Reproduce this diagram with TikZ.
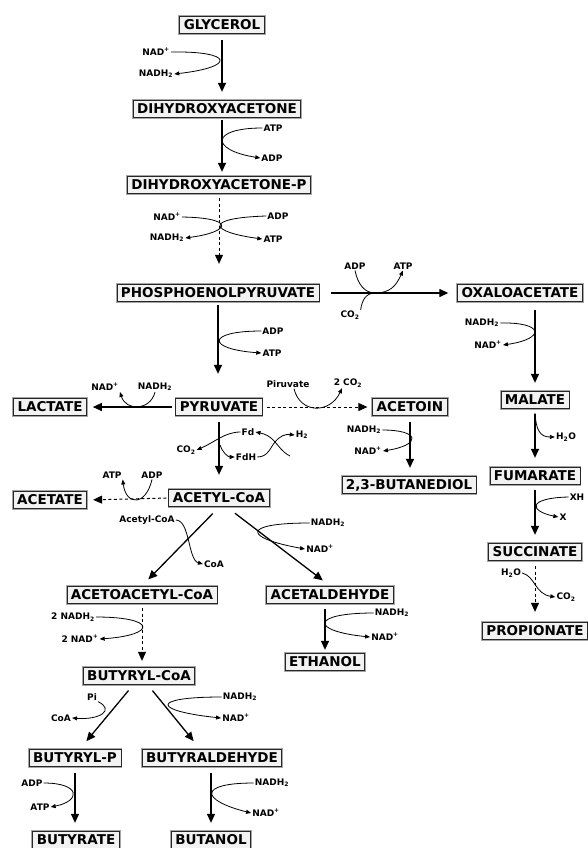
\documentclass[tikz,border=0pt]{standalone}
\usepackage{fontspec}
\setmainfont{DejaVu Sans}
\usetikzlibrary{arrows.meta}

\begin{document}
\begin{tikzpicture}[
    x = 1pt, y = -1pt, % pixel grid, y downwards
    > = {Triangle[length=9pt,width=8pt]}, % arrow head style
    main/.style = {->, line width=1.3pt},
    dashline/.style = {->, line width=1pt, dash pattern=on 3pt off 2.5pt},
    side/.style = {line width=0.8pt},
    tip/.style = {-{Triangle[length=5pt,width=4pt]}}
    ]
\tikzset{met/.style={
    preaction = {draw=black!35, line width=2.6pt},
    draw = black!85,
    fill = black!5,
    line width = 0.7pt,
    font = \fontsize{13.5}{14}\selectfont\bfseries,
    inner xsep = 4pt, inner ysep = 4pt,
    text height = 9.6pt, text depth = 0pt
    }}
\tikzset{cof/.style={font=\fontsize{9}{10}\selectfont\bfseries, inner sep=1pt}}

\useasboundingbox (0,0) rectangle (588,848);

    % metabolites
    \node[met] (GLY) at (222,25) {GLYCEROL};
    \node[met] (DHA) at (217,109) {DIHYDROXYACETONE};
    \node[met] (DHAP) at (219,185) {DIHYDROXYACETONE-P};
    \node[met] (PEP) at (218,293) {PHOSPHOENOLPYRUVATE};
    \node[met] (OAA) at (520,293) {OXALOACETATE};
    \node[met] (MAL) at (535,400) {MALATE};
    \node[met] (FUM) at (535,476) {FUMARATE};
    \node[met] (SUC) at (535,552) {SUCCINATE};
    \node[met] (PRO) at (535,631) {PROPIONATE};
    \node[met] (PYR) at (219,407) {PYRUVATE};
    \node[met] (LAC) at (50,407) {LACTATE};
    \node[met] (ACN) at (410,407) {ACETOIN};
    \node[met] (BDO) at (409,485) {2,3-BUTANEDIOL};
    \node[met] (ACA) at (219,498) {ACETYL-CoA};
    \node[met] (ACE) at (50,500) {ACETATE};
    \node[met] (AAC) at (142,595) {ACETOACETYL-CoA};
    \node[met] (ALD) at (330,595) {ACETALDEHYDE};
    \node[met] (ETH) at (325,662) {ETHANOL};
    \node[met] (BCA) at (139,676) {BUTYRYL-CoA};
    \node[met] (BP) at (75,758) {BUTYRYL-P};
    \node[met] (BAL) at (212,758) {BUTYRALDEHYDE};
    \node[met] (BUT) at (76,840) {BUTYRATE};
    \node[met] (BOL) at (211,840) {BUTANOL};

    % main arrows
    \draw[main, shorten <=6pt, shorten >=8pt] (GLY.south) -- (GLY |- DHA.north);
    \draw[main, shorten <=2pt, shorten >=4pt] (GLY |- DHA.south) -- (GLY |- DHAP.north);
    \draw[dashline, shorten <=4pt, shorten >=20pt] (DHAP.south) -- (DHAP |- PEP.north);
    \draw[main, shorten <=3pt, shorten >=24pt] (PEP.south) -- (PEP |- PYR.north);
    \draw[main, shorten <=12pt, shorten >=9pt] (PEP.east) -- (OAA.west);
    \draw[main, shorten <=8pt, shorten >=8pt] (MAL |- OAA.south) -- (MAL.north);
    \draw[main, shorten <=5pt, shorten >=9pt] (MAL.south) -- (FUM.north);
    \draw[main, shorten <=5pt, shorten >=8pt] (FUM.south) -- (SUC.north);
    \draw[dashline, shorten <=5pt, shorten >=10pt] (SUC.south) -- (PRO.north);
    \draw[main, shorten <=3pt, shorten >=6pt] (PYR.west) -- (LAC.east);
    \draw[dashline, shorten <=4pt, shorten >=5pt] (PYR.east) -- (ACN.west);
    \draw[main, shorten <=6pt, shorten >=8pt] (ACN.south) -- (ACN |- BDO.north);
    \draw[main, shorten <=6pt, shorten >=14pt] (PYR.south) -- (ACA.north);
    \draw[dashline, shorten <=2pt, shorten >=6pt] (ACA.west) -- (ACE.east);
    \draw[main, shorten <=9pt, shorten >=9pt] (ACA.south) -- (AAC.north);
    \draw[main, shorten <=10pt, shorten >=9pt] ([xshift=8pt]ACA.south) -- (ALD.north);
    \draw[main, shorten <=5pt, shorten >=3pt] (ETH |- ALD.south) -- (ETH.north);
    \draw[dashline, shorten <=4pt, shorten >=6pt] (AAC.south) -- (AAC |- BCA.north);
    \draw[main, shorten <=7pt, shorten >=10pt] ([xshift=-6pt]BCA.south) -- ([xshift=5pt]BP.north);
    \draw[main, shorten <=7pt, shorten >=10pt] ([xshift=9pt]BCA.south) -- ([xshift=-12pt]BAL.north);
    \draw[main, shorten <=6pt, shorten >=8pt] (BP.south) -- (BP |- BUT.north);
    \draw[main, shorten <=6pt, shorten >=8pt] (BOL |- BAL.south) -- (BOL.north);

    % glycerol -> dihydroxyacetone
    \node[cof] (nad1) at (156,52) {NAD\textsuperscript{+}};
    \node[cof] (nadh1) at (156,74) {NADH\textsubscript{2}};
    \draw[side,tip] (nad1.east) .. controls (234,51) and (236,67) .. (nadh1.east);

    % dihydroxyacetone -> dihydroxyacetone-P
    \node[cof] (atp2) at (273,128) {ATP};
    \node[cof] (adp2) at (272,158) {ADP};
    \draw[side,tip] (atp2.west) .. controls (210,128) and (210,150) .. (adp2.west);

    % dihydroxyacetone-P -> phosphoenolpyruvate
    \node[cof] (nad3) at (167,217) {NAD\textsuperscript{+}};
    \node[cof] (nadh3) at (167,238) {NADH\textsubscript{2}};
    \node[cof] (adp3) at (278,216) {ADP};
    \node[cof] (atp3) at (273,239) {ATP};
    \draw[side,tip] (nad3.east) .. controls (237,218) and (230,232) .. (nadh3.east);
    \draw[side,tip] (adp3.west) .. controls (202,218) and (210,232) .. (atp3.west);

    % phosphoenolpyruvate -> pyruvate
    \node[cof] (adp4) at (273,331) {ADP};
    \node[cof] (atp4) at (272,353) {ATP};
    \draw[side,tip] (adp4.west) .. controls (206,331) and (206,349) .. (atp4.west);

    % phosphoenolpyruvate -> oxaloacetate
    \node[cof] (adp5) at (355,266) {ADP};
    \node[cof] (atp5) at (403,266) {ATP};
    \node[cof] (co5) at (350,315) {CO\textsubscript{2}};
    \coordinate (x5) at (375,293);
    \draw[side] (adp5.south) .. controls (358,285) and (365,293) .. (x5);
    \draw[side] (co5.north east) .. controls (362,300) and (366,293) .. (x5);
    \draw[side,tip] (x5) .. controls (390,293) and (396,286) .. (atp5.south);

    % oxaloacetate -> malate
    \node[cof] (nadh6) at (482,323) {NADH\textsubscript{2}};
    \node[cof] (nad6) at (488,345) {NAD\textsuperscript{+}};
    \draw[side,tip] (nadh6.east) .. controls (545,322) and (545,339) .. (nad6.east);

    % pyruvate -> lactate
    \node[cof] (nad7) at (105,387) {NAD\textsuperscript{+}};
    \node[cof] (nadh7) at (155,387) {NADH\textsubscript{2}};
    \draw[side,tip] (nadh7.south) .. controls (150,411) and (126,411) .. (nad7.south east);

    % pyruvate -> acetoin
    \node[cof] (pir8) at (288,384) {Piruvate};
    \node[cof] (co8) at (348,383) {2 CO\textsubscript{2}};
    \draw[side,tip] ([xshift=6pt]pir8.south) .. controls (300,414) and (330,414) .. ([xshift=-6pt]co8.south);

    % pyruvate -> acetyl-CoA
    \node[cof] (fd9) at (248,432) {Fd};
    \node[cof] (fdh9) at (246,457) {FdH};
    \node[cof] (co9) at (186,450) {CO\textsubscript{2}};
    \node[cof] (h29) at (302,435) {H\textsubscript{2}};
    \coordinate (p9) at (220,445);
    \coordinate (x9) at (275,442);
    \coordinate (q9) at (290,456);
    \draw[side,tip] (fd9.west) .. controls (225,432) and (215,442) .. (co9.east);
    \draw[side,tip] (p9) .. controls (222,452) and (228,457) .. (fdh9.west);
    \draw[side,tip] (fdh9.east) .. controls (268,457) and (270,448) .. (x9) .. controls (280,436) and (285,434) .. (h29.west);
    \draw[side,tip] (q9) .. controls (282,452) and (279,446) .. (x9) .. controls (270,436) and (265,434) .. (fd9.east);

    % acetyl-CoA -> acetate
    \node[cof] (atp10) at (112,475) {ATP};
    \node[cof] (adp10) at (152,475) {ADP};
    \draw[side,tip] (adp10.south) .. controls (146,506) and (126,506) .. (atp10.south east);

    % acetyl-CoA -> acetoacetyl-CoA
    \node[cof] (acl11) at (147,520) {Acetyl-CoA};
    \node[cof] (coa11) at (214,564) {CoA};
    \draw[side,tip] (acl11.east) .. controls (190,520) and (188,560) .. (coa11.west);

    % acetyl-CoA -> acetaldehyde
    \node[cof] (nadh12) at (328,523) {NADH\textsubscript{2}};
    \node[cof] (nad12) at (320,549) {NAD\textsuperscript{+}};
    \draw[side,tip] (nadh12.west) .. controls (240,523) and (244,538) .. (nad12.west);

    % acetaldehyde -> ethanol
    \node[cof] (nadh13) at (392,613) {NADH\textsubscript{2}};
    \node[cof] (nad13) at (385,637) {NAD\textsuperscript{+}};
    \draw[side,tip] (nadh13.west) .. controls (310,613) and (310,631) .. (nad13.west);

    % acetoacetyl-CoA -> butyryl-CoA
    \node[cof] (nadh14) at (73,617) {2 NADH\textsubscript{2}};
    \node[cof] (nad14) at (80,639) {2 NAD\textsuperscript{+}};
    \draw[side,tip] (nadh14.east) .. controls (157,617) and (157,635) .. (nad14.east);

    % butyryl-CoA -> butyryl-P
    \node[cof] (pi15) at (92,697) {Pi};
    \node[cof] (coa15) at (61,718) {CoA};
    \draw[side,tip] (pi15.south east) .. controls (115,710) and (100,720) .. (coa15.east);

    % butyryl-CoA -> butyraldehyde
    \node[cof] (nadh16) at (240,697) {NADH\textsubscript{2}};
    \node[cof] (nad16) at (236,718) {NAD\textsuperscript{+}};
    \draw[side,tip] (nadh16.west) .. controls (148,697) and (154,711) .. (nad16.west);

    % butyryl-P -> butyrate
    \node[cof] (adp17) at (32,783) {ADP};
    \node[cof] (atp17) at (40,807) {ATP};
    \draw[side,tip] (adp17.east) .. controls (81,783) and (81,801) .. (atp17.east);

    % butyraldehyde -> butanol
    \node[cof] (nadh18) at (272,783) {NADH\textsubscript{2}};
    \node[cof] (nad18) at (266,813) {NAD\textsuperscript{+}};
    \draw[side,tip] (nadh18.west) .. controls (198,783) and (200,800) .. (nad18.west);

    % acetoin -> 2,3-butanediol
    \node[cof] (nadh19) at (364,430) {NADH\textsubscript{2}};
    \node[cof] (nad19) at (368,451) {NAD\textsuperscript{+}};
    \draw[side,tip] (nadh19.east) .. controls (421,430) and (421,445) .. (nad19.east);

    % malate -> fumarate
    \node[cof] (h2o20) at (566,437) {H\textsubscript{2}O};
    \coordinate (p20) at (535,413);
    \draw[side,tip] (p20) .. controls (536,430) and (540,437) .. (h2o20.west);

    % fumarate -> succinate
    \node[cof] (xh21) at (577,497) {XH};
    \node[cof] (x21) at (563,517) {X};
    \draw[side,tip] (xh21.west) .. controls (527,498) and (529,511) .. (x21.west);

    % succinate -> propionate
    \node[cof] (h2o22) at (511,573) {H\textsubscript{2}O};
    \node[cof] (co22) at (566,597) {CO\textsubscript{2}};
    \draw[side,tip] (h2o22.east) .. controls (535,576) and (535,594) .. (co22.west);
\end{tikzpicture}
\end{document}
